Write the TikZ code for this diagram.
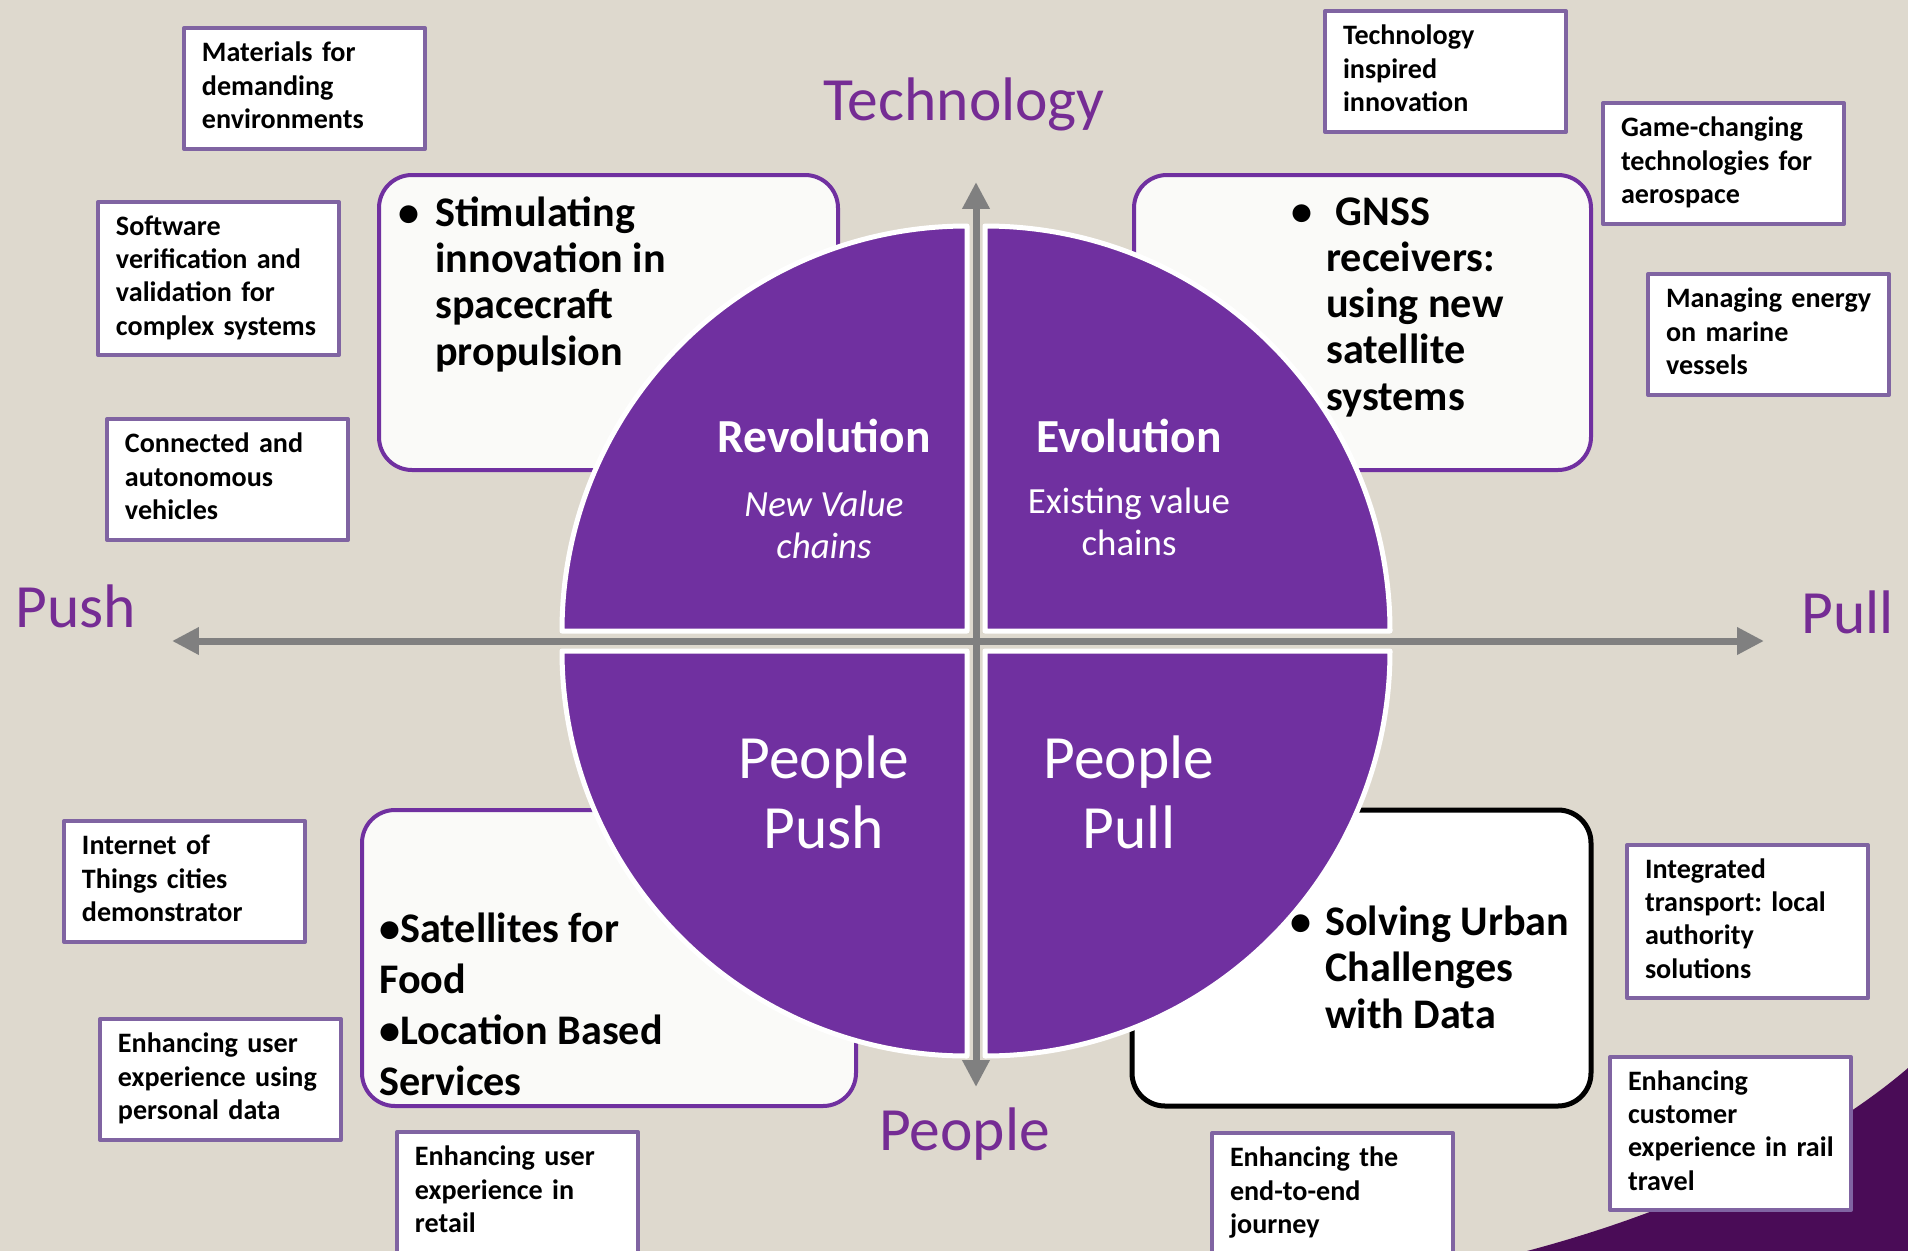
\documentclass[tikz,border=0pt]{standalone}
\usepackage{fontspec}
\setmainfont{Carlito}
\usetikzlibrary{arrows.meta}
\frenchspacing
\definecolor{bgbeige}{RGB}{222,217,206}
\definecolor{quadpurple}{RGB}{112,48,160}
\definecolor{headpurple}{RGB}{117,44,148}
\definecolor{tagline}{RGB}{128,100,162}
\definecolor{cornerpurple}{RGB}{74,12,87}
\definecolor{axisgray}{RGB}{128,128,128}
\definecolor{boxwhite}{RGB}{250,250,248}
\newcommand{\taglines}[1]{\begin{tabular}{@{}l@{}}#1\end{tabular}}
\begin{document}
\begin{tikzpicture}[x=0.02cm, y=-0.02cm, line join=round,
	>={Triangle[length=0.54cm, width=0.52cm]},
	tag/.style={draw=tagline, line width=0.08cm, fill=white, anchor=north west, text width=4.1cm, inner xsep=0.36cm, inner ysep=0pt, minimum height=2.42cm, font=\fontsize{16}{19}\selectfont\bfseries},
	tagtall/.style={tag, minimum height=3.06cm},
	bubble/.style={draw=quadpurple, line width=0.08cm, fill=boxwhite, rounded corners=0.66cm},
	quad/.style={fill=quadpurple, draw=white, line width=0.1cm},
	axis/.style={draw=axisgray, line width=0.14cm, <->},
	head/.style={text=headpurple, font=\fontsize{35}{42}\selectfont, inner sep=0pt, anchor=base west},
	btext/.style={font=\fontsize{24}{26.2}\selectfont\bfseries, inner sep=0pt, anchor=base west, align=left},
	qtitle/.style={text=white, font=\fontsize{27}{32}\selectfont\bfseries, inner sep=0pt, anchor=base},
	qsub/.style={text=white, font=\fontsize{21}{23.5}\selectfont, inner sep=0pt, anchor=base, align=center},
	qbig/.style={text=white, font=\fontsize{35}{39.8}\selectfont, inner sep=0pt, anchor=base, align=center}]
	\useasboundingbox (0,0) rectangle (1908,1251);
	\clip (0,0) rectangle (1908,1251);
	\fill[bgbeige] (0,0) rectangle (1908,1251);
	\fill[cornerpurple] (1527,1251) .. controls (1700,1205) and (1830,1135) .. (1908,1068) -- (1908,1251) -- cycle;
	% Khung bo tròn
	\draw[bubble] (379,175) rectangle (838,470);
	\draw[bubble] (1134,175) rectangle (1591,470);
	\draw[bubble] (362,810) rectangle (856,1106);
	\draw[bubble, draw=black, fill=white, line width=0.1cm] (1132,810) rectangle (1591,1106);
	\node[btext] (stim) at (398,365) {\makebox[0.74cm][l]{\textbullet}Stimulating\\\hspace*{0.74cm}innovation in\\\hspace*{0.74cm}spacecraft\\\hspace*{0.74cm}propulsion};
	\node[btext] (gnss) at (1291,410) {\makebox[0.7cm][l]{\textbullet}\ GNSS\\\hspace*{0.7cm}receivers:\\\hspace*{0.7cm}using new\\\hspace*{0.7cm}satellite\\\hspace*{0.7cm}systems};
	\node[btext, font=\fontsize{24}{29}\selectfont\bfseries] (sat) at (379,1095) {\textbullet Satellites for\\Food\\\textbullet Location Based\\Services};
	\node[btext] (urban) at (1290,1028) {\makebox[0.7cm][l]{\textbullet}Solving Urban\\\hspace*{0.7cm}Challenges\\\hspace*{0.7cm}with Data};
	% Bốn góc phần tư
	\draw[quad] (967,631) -- ++(-405,0) arc[start angle=180, end angle=270, radius=405] -- cycle;
	\draw[quad] (985,631) -- ++(405,0) arc[start angle=0, end angle=-90, radius=405] -- cycle;
	\draw[quad] (967,651) -- ++(-405,0) arc[start angle=180, end angle=90, radius=405] -- cycle;
	\draw[quad] (985,651) -- ++(405,0) arc[start angle=0, end angle=90, radius=405] -- cycle;
	% Trục
	\coordinate (W) at (172,641);
	\coordinate (E) at (1764,641);
	\coordinate (N) at (976,182);
	\coordinate (S) at (976,1087);
	\draw[axis] (W) -- (E);
	\draw[axis] (N) -- (S);
	\node[head] (push) at (15,627) {Push};
	\node[head] (pull) at (1801,633) {Pull};
	\node[head] (tech) at (823,120) {Technology};
	\node[head] (people) at (879,1150) {People};
	\node[qtitle] (rev) at (824,452) {Revolution};
	\node[qsub, font=\fontsize{21}{23.5}\selectfont\itshape] (revsub) at (824,558) {New Value\\chains};
	\node[qtitle] (evo) at (1129,452) {Evolution};
	\node[qsub] (evosub) at (1129,555) {Existing value\\chains};
	\node[qbig] (ppush) at (824,848) {People\\Push};
	\node[qbig] (ppull) at (1129,848) {People\\Pull};
	% Các ô nhỏ
	\node[tag] (mat) at (182,26) {\taglines{Materials for\\demanding\\environments}};
	\node[tagtall] (soft) at (96,200) {\taglines{Software\\verification and\\validation for\\complex systems}};
	\node[tag] (conn) at (105,417) {\taglines{Connected and\\autonomous\\vehicles}};
	\node[tag] (iot) at (62,819) {\taglines{Internet of\\Things cities\\demonstrator}};
	\node[tag] (pers) at (98,1017) {\taglines{Enhancing user\\experience using\\personal data}};
	\node[tag] (retail) at (395,1130) {\taglines{Enhancing user\\experience in\\retail}};
	\node[tag] (techin) at (1323,9) {\taglines{Technology\\inspired\\innovation}};
	\node[tag] (game) at (1601,101) {\taglines{Game-changing\\technologies for\\aerospace}};
	\node[tag] (marine) at (1646,272) {\taglines{Managing energy\\on marine\\vessels}};
	\node[tagtall] (integ) at (1625,843) {\taglines{Integrated\\transport: local\\authority\\solutions}};
	\node[tagtall] (rail) at (1608,1055) {\taglines{Enhancing\\customer\\experience in rail\\travel}};
	\node[tag] (journey) at (1210,1131) {\taglines{Enhancing the\\end-to-end\\journey}};
\end{tikzpicture}
\end{document}
